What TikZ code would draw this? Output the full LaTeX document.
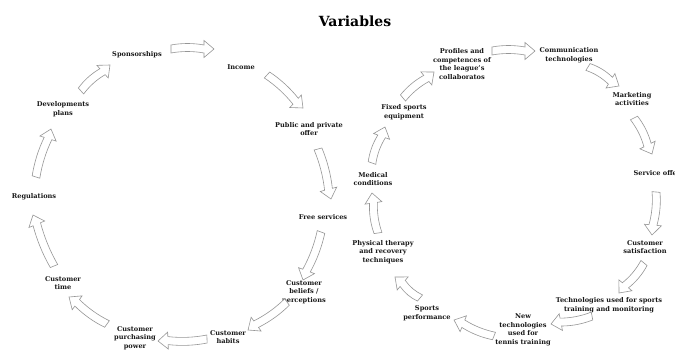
\documentclass[tikz,border=0pt]{standalone}
\usepackage{fontspec}
\setmainfont{DejaVu Serif}
\usetikzlibrary{calc}
\definecolor{arrowgray}{RGB}{150,150,150}
\tikzset{
  lbl/.style={font=\fontsize{6.6}{8.5}\selectfont\bfseries, align=center, inner sep=0pt, text=black!90},
  ttl/.style={font=\fontsize{14}{17}\selectfont\bfseries, inner sep=0pt},
  blockarrow/.style={draw=arrowgray, fill=white, line width=0.6pt, line join=miter}
}
% block arrow between two named coordinates, optional bulge
\newcommand{\barrow}[3][2]{%
  \path[blockarrow] let \p1=(#2), \p2=(#3),
    \n1={atan2(\y2-\y1,\x2-\x1)}, \n2={veclen(\x2-\x1,\y2-\y1)} in
    [shift={(\p1)}, rotate=\n1]
    (0pt,-4pt) .. controls ({(\n2-10pt)*0.33},{#1pt-4pt}) and ({(\n2-10pt)*0.67},{#1pt-4pt}) .. ({\n2-10pt},-4pt)
    -- ({\n2-10pt},-8.5pt) -- ({\n2},0pt) -- ({\n2-10pt},8.5pt) -- ({\n2-10pt},4pt)
    .. controls ({(\n2-10pt)*0.67},{#1pt+4pt}) and ({(\n2-10pt)*0.33},{#1pt+4pt}) .. (0pt,4pt) -- cycle;}
\begin{document}
\begin{tikzpicture}[x=1pt,y=-1pt]
\useasboundingbox (0,0) rectangle (675,350);
\fill[white] (0,0) rectangle (675,350);
\clip (0,0) rectangle (675,350);

\node[ttl] (title) at (355,21) {Variables};

% left cycle
\node[lbl] (spons) at (137,55) {Sponsorships};
\node[lbl] (income) at (241,67) {Income};
\node[lbl] (public) at (309,129) {Public and private\\offer};
\node[lbl] (free) at (323,217) {Free services};
\node[lbl] (beliefs) at (304,292) {Customer\\beliefs /\\perceptions};
\node[lbl] (habits) at (228,337) {Customer\\habits};
\node[lbl] (purch) at (135,338) {Customer\\purchasing\\power};
\node[lbl] (ctime) at (63,283) {Customer\\time};
\node[lbl] (reg) at (34,197) {Regulations};
\node[lbl] (dev) at (63,109) {Developments\\plans};

% right cycle
\node[lbl] (profiles) at (462,64) {Profiles and\\competences of\\the league's\\collaboratos};
\node[lbl] (comm) at (569,55) {Communication\\technologies};
\node[lbl] (mkt) at (632,99) {Marketing\\activities};
\node[lbl] (service) at (657,173) {Service offer};
\node[lbl] (csat) at (645,247) {Customer\\satisfaction};
\node[lbl] (techsp) at (609,305) {Technologies used for sports\\training and monitoring};
\node[lbl] (newtech) at (523,330) {New\\technologies\\used for\\tennis training};
\node[lbl] (sports) at (427,313) {Sports\\performance};
\node[lbl] (physical) at (383,252) {Physical therapy\\and recovery\\techniques};
\node[lbl] (medical) at (373,179) {Medical\\conditions};
\node[lbl] (fixed) at (404,112) {Fixed sports\\equipment};

% arrow end points
\coordinate (a1s) at (171,49);  \coordinate (a1e) at (214,49);
\coordinate (a2s) at (267,75);  \coordinate (a2e) at (303,108);
\coordinate (a3s) at (318,149); \coordinate (a3e) at (331,199);
\coordinate (a4s) at (321,232); \coordinate (a4e) at (303,280);
\coordinate (a5s) at (287,302); \coordinate (a5e) at (248,330);
\coordinate (a6s) at (207,339); \coordinate (a6e) at (158,341);
\coordinate (a7s) at (107,324); \coordinate (a7e) at (69,297);
\coordinate (a8s) at (54,266);  \coordinate (a8e) at (33,215);
\coordinate (a9s) at (36,177);  \coordinate (a9e) at (51,129);
\coordinate (a10s) at (81,91);  \coordinate (a10e) at (110,65);

\coordinate (b1s) at (372,163); \coordinate (b1e) at (385,127);
\coordinate (b2s) at (403,98);  \coordinate (b2e) at (434,72);
\coordinate (b3s) at (492,51);  \coordinate (b3e) at (535,51);
\coordinate (b4s) at (588,67);  \coordinate (b4e) at (619,86);
\coordinate (b5s) at (634,118); \coordinate (b5e) at (652,154);
\coordinate (b6s) at (656,192); \coordinate (b6e) at (652,235);
\coordinate (b7s) at (644,263); \coordinate (b7e) at (619,293);
\coordinate (b8s) at (592,316); \coordinate (b8e) at (551,324);
\coordinate (b9s) at (494,336); \coordinate (b9e) at (454,320);
\coordinate (b10s) at (420,298); \coordinate (b10e) at (395,277);
\coordinate (b11s) at (378,233); \coordinate (b11e) at (372,193);

\barrow{a1s}{a1e}
\barrow{a2s}{a2e}
\barrow{a3s}{a3e}
\barrow{a4s}{a4e}
\barrow{a5s}{a5e}
\barrow{a6s}{a6e}
\barrow{a7s}{a7e}
\barrow{a8s}{a8e}
\barrow{a9s}{a9e}
\barrow{a10s}{a10e}

\barrow{b1s}{b1e}
\barrow{b2s}{b2e}
\barrow{b3s}{b3e}
\barrow{b4s}{b4e}
\barrow{b5s}{b5e}
\barrow{b6s}{b6e}
\barrow{b7s}{b7e}
\barrow{b8s}{b8e}
\barrow{b9s}{b9e}
\barrow{b10s}{b10e}
\barrow{b11s}{b11e}
\end{tikzpicture}
\end{document}
